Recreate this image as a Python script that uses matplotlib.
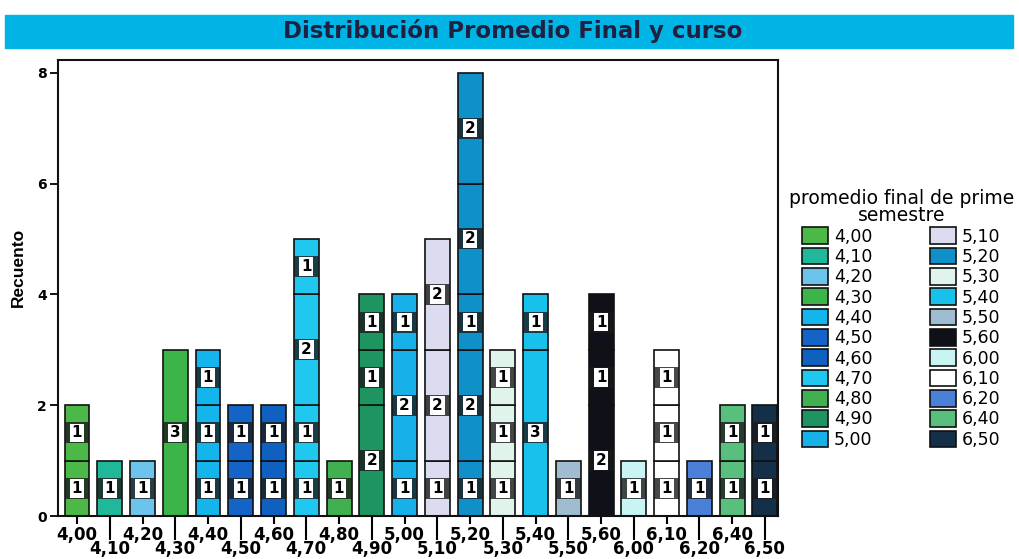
import matplotlib
matplotlib.use("Agg")
import matplotlib.pyplot as plt
from matplotlib.patches import Rectangle, Patch

# promedio final (categorias del eje x)
promedios = ['4,00', '4,10', '4,20', '4,30', '4,40', '4,50', '4,60', '4,70',
             '4,80', '4,90', '5,00', '5,10', '5,20', '5,30', '5,40', '5,50',
             '5,60', '6,00', '6,10', '6,20', '6,40', '6,50']

# recuento por curso dentro de cada barra (de abajo hacia arriba)
segmentos = [[1, 1], [1], [1], [3], [1, 1, 1], [1, 1], [1, 1], [1, 1, 2, 1],
             [1], [2, 1, 1], [1, 2, 1], [1, 2, 2], [1, 2, 1, 2, 2], [1, 1, 1],
             [3, 1], [1], [2, 1, 1], [1], [1, 1, 1], [1], [1, 1], [1, 1]]

colores = ['#4cb848', '#1fb89a', '#6cc4ec', '#3cb44a', '#14b4ec', '#1464c8',
           '#1060c0', '#20c8f0', '#40b050', '#1e9460', '#18b0e8', '#dcdcf0',
           '#1090c8', '#e0f4ec', '#18c0ec', '#a0bcd0', '#101018', '#c8f4f4',
           '#ffffff', '#4a80d8', '#58c07c', '#143048']

fuente = ['DejaVu Sans']

fig = plt.figure(figsize=(10.19, 5.59), dpi=100)

# banda del titulo
fig.patches.append(Rectangle((5/1019, 1-48/559), 1008/1019, 33/559,
                             transform=fig.transFigure, color='#00b4e6', zorder=0))
fig.text(0.503, 1-31/559, 'Distribución Promedio Final y curso', ha='center', va='center',
         fontsize=16.5, fontweight='bold', family=fuente, color='#202040')

ax = fig.add_axes([58/1019, 1-516/559, 720/1019, 456/559])
ancho = 0.76
alto_etq = 0.38
for i, segs in enumerate(segmentos):
    base = 0
    for n in segs:
        ax.bar(i, n, bottom=base, width=ancho, color=colores[i], edgecolor='#111111', linewidth=1.2, zorder=2)
        yc = base + n / 2
        ax.add_patch(Rectangle((i - ancho/2, yc - alto_etq/2), ancho, alto_etq,
                               facecolor='#1a1a1a', alpha=0.8, zorder=3))
        ax.text(i, yc, str(n), ha='center', va='center', fontsize=11, fontweight='bold',
                family=fuente, zorder=4,
                bbox=dict(boxstyle='square,pad=0.12', facecolor='white', edgecolor='none'))
        base += n

ax.set_xlim(-0.58, 21.4)
ax.set_ylim(0, 8.23)
for s in ax.spines.values():
    s.set_linewidth(1.5)
    s.set_color('#111111')

ax.set_yticks([0, 2, 4, 6, 8])
ax.tick_params(axis='y', length=6, width=1.3, labelsize=10, pad=2)
for t in ax.get_yticklabels():
    t.set_fontweight('bold')

pares = list(range(0, len(promedios), 2))
impares = list(range(1, len(promedios), 2))
ax.set_xticks(pares, [promedios[i] for i in pares])
ax.set_xticks(impares, [promedios[i] for i in impares], minor=True)
ax.tick_params(axis='x', which='major', length=6, width=1.5, labelsize=12, pad=1)
ax.tick_params(axis='x', which='minor', length=17, width=1.5, labelsize=12, pad=0)
for t in ax.get_xticklabels() + ax.get_xticklabels(minor=True):
    t.set_fontweight('bold')
    t.set_family(fuente)

ax.set_ylabel('Recuento', fontsize=12.5, fontweight='bold',
              family=['Liberation Sans Narrow', 'Liberation Sans', 'DejaVu Sans'])
ax.yaxis.set_label_coords(-0.044, 0.545)

manijas = [Patch(facecolor=c, edgecolor='#111111', linewidth=1.2) for c in colores]
leg = fig.legend(manijas, promedios, ncol=2, loc='upper left', bbox_to_anchor=(0.762, 0.684),
                 frameon=False, title='promedio final de prime\nsemestre',
                 prop={'family': fuente, 'size': 12.5},
                 title_fontsize=13.5, handlelength=1.5, handleheight=1.1, handletextpad=0.35,
                 labelspacing=0.12, columnspacing=3.3, borderpad=0.2)
leg.get_title().set_multialignment('center')
leg.get_title().set_family(fuente)
leg.get_title().set_linespacing(0.9)

fig.savefig('out.png', dpi=100)
